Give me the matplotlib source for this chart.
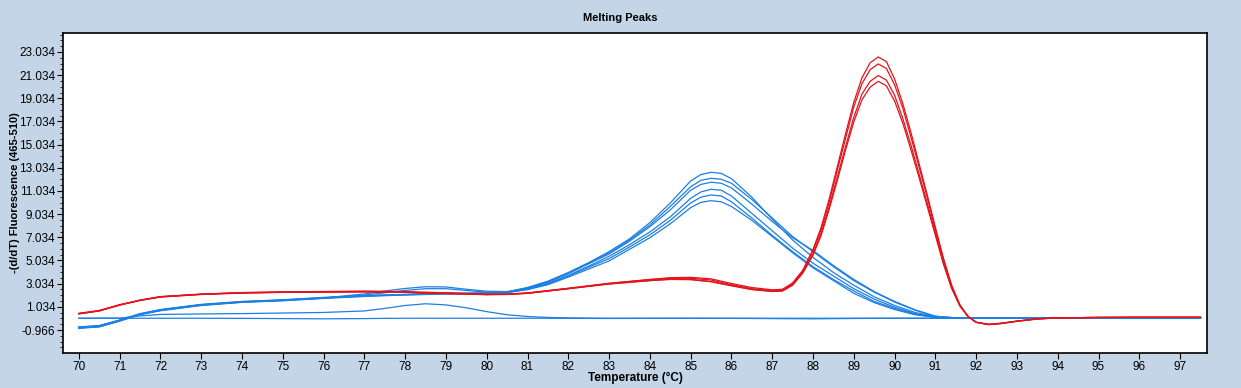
import numpy as np
import matplotlib
matplotlib.use("Agg")
import matplotlib.pyplot as plt
from matplotlib.ticker import FixedLocator

plt.rcParams['font.family'] = ['Liberation Sans', 'DejaVu Sans']

# temperature grids (deg C)
t_blue = [70, 70.5, 71, 71.5, 72, 73, 74, 75, 76, 77, 77.5, 78, 78.5, 79, 79.5,
          80, 80.5, 81, 81.5, 82, 82.5, 83, 83.5, 84, 84.5, 85, 85.25, 85.5, 85.75,
          86, 86.5, 87, 87.5, 88, 88.5, 89, 89.5, 90, 90.5, 91, 91.5, 92, 93, 94,
          95, 96, 97, 97.5]

t_red = [70, 70.5, 71, 71.5, 72, 73, 74, 75, 76, 77, 78, 79, 80, 80.5, 81, 82, 83,
         84, 84.5, 85, 85.5, 86, 86.5, 87, 87.25, 87.5, 87.75,
         88.0, 88.2, 88.4, 88.6, 88.8, 89.0, 89.2, 89.4, 89.6, 89.8, 90.0, 90.2,
         90.4, 90.6, 90.8, 91.0, 91.2, 91.4, 91.6, 91.8, 92.0,
         92.3, 92.6, 93, 93.5, 94, 95, 96, 97, 97.5]

t_ctrl = [70, 71, 71.5, 72, 73, 74, 75, 76, 77, 77.5, 78, 78.5, 79, 79.5, 80,
          80.5, 81, 81.5, 82, 83, 84, 85, 86, 87, 88, 89, 90, 91, 92, 93, 94, 95,
          96, 97, 97.5]

# blue samples, peak ~85.5
blue_a = [-0.72, -0.6, -0.12, 0.42, 0.78, 1.22, 1.48, 1.62, 1.82, 1.98, 2.05, 2.1, 2.15, 2.2, 2.2,
          2.22, 2.3, 2.7, 3.25, 4.0, 4.85, 5.8, 6.9, 8.3, 10.0, 11.9, 12.45, 12.65, 12.55,
          12.1, 10.5, 8.6, 6.8, 5.3, 4.0, 2.9, 1.9, 1.15, 0.55, 0.2, 0.08, 0.06, 0.05, 0.05,
          0.05, 0.05, 0.05, 0.05]
blue_b = [-0.78, -0.65, -0.15, 0.4, 0.75, 1.2, 1.45, 1.6, 1.8, 2.15, 2.4, 2.62, 2.77, 2.75, 2.55,
          2.38, 2.35, 2.68, 3.2, 3.95, 4.8, 5.7, 6.8, 8.1, 9.7, 11.4, 11.95, 12.13, 12.05,
          11.7, 10.3, 8.7, 7.1, 5.8, 4.5, 3.3, 2.3, 1.45, 0.75, 0.22, 0.08, 0.06, 0.05, 0.05,
          0.05, 0.05, 0.05, 0.05]
blue_c = [-0.7, -0.58, -0.1, 0.45, 0.8, 1.25, 1.5, 1.65, 1.85, 2.0, 2.06, 2.1, 2.16, 2.2, 2.22,
          2.24, 2.32, 2.65, 3.15, 3.9, 4.75, 5.6, 6.7, 7.95, 9.4, 11.1, 11.6, 11.79, 11.7,
          11.3, 9.9, 8.4, 7.0, 5.9, 4.6, 3.4, 2.35, 1.5, 0.78, 0.22, 0.08, 0.06, 0.05, 0.05,
          0.05, 0.05, 0.05, 0.05]
blue_d = [-0.8, -0.68, -0.18, 0.38, 0.72, 1.18, 1.44, 1.58, 1.78, 2.05, 2.25, 2.45, 2.6, 2.6, 2.45,
          2.3, 2.3, 2.6, 3.05, 3.75, 4.55, 5.4, 6.4, 7.5, 8.8, 10.4, 10.95, 11.18, 11.1,
          10.6, 9.1, 7.6, 6.1, 4.8, 3.7, 2.6, 1.7, 1.0, 0.45, 0.15, 0.07, 0.06, 0.05, 0.05,
          0.05, 0.05, 0.05, 0.05]
blue_e = [-0.75, -0.62, -0.14, 0.4, 0.76, 1.2, 1.46, 1.6, 1.8, 1.95, 2.02, 2.08, 2.12, 2.16, 2.18,
          2.2, 2.28, 2.55, 3.0, 3.7, 4.45, 5.2, 6.2, 7.25, 8.5, 10.0, 10.5, 10.69, 10.6,
          10.1, 8.7, 7.2, 5.8, 4.5, 3.4, 2.4, 1.5, 0.9, 0.4, 0.14, 0.07, 0.06, 0.05, 0.05,
          0.05, 0.05, 0.05, 0.05]
blue_f = [-0.82, -0.7, -0.2, 0.36, 0.7, 1.15, 1.42, 1.56, 1.76, 1.93, 2.0, 2.05, 2.1, 2.14, 2.16,
          2.18, 2.26, 2.52, 2.95, 3.6, 4.3, 5.0, 6.0, 7.0, 8.2, 9.6, 10.05, 10.2, 10.1,
          9.7, 8.5, 7.1, 5.7, 4.4, 3.3, 2.2, 1.4, 0.8, 0.35, 0.12, 0.07, 0.06, 0.05, 0.05,
          0.05, 0.05, 0.05, 0.05]

# red samples, peak ~89.6
red_a = [0.42, 0.68, 1.18, 1.6, 1.9, 2.12, 2.27, 2.33, 2.36, 2.4, 2.35, 2.25, 2.12, 2.12, 2.2,
         2.6, 3.05, 3.4, 3.55, 3.58, 3.45, 3.05, 2.7, 2.5, 2.55, 3.1, 4.2,
         6.0, 7.9, 10.4, 13.2, 16.0, 18.7, 20.8, 22.1, 22.6, 22.2, 20.7, 18.6,
         16.1, 13.4, 10.7, 7.9, 5.2, 2.9, 1.2, 0.2, -0.3,
         -0.5, -0.4, -0.2, 0.0, 0.08, 0.12, 0.13, 0.13, 0.13]
red_b = [0.45, 0.7, 1.2, 1.62, 1.92, 2.14, 2.25, 2.3, 2.33, 2.35, 2.3, 2.2, 2.1, 2.14, 2.24,
         2.64, 3.07, 3.38, 3.5, 3.5, 3.35, 2.95, 2.6, 2.42, 2.47, 3.0, 4.1,
         5.9, 7.7, 10.1, 12.9, 15.6, 18.3, 20.3, 21.5, 22.0, 21.6, 20.2, 18.2,
         15.7, 13.1, 10.5, 7.7, 5.1, 2.8, 1.2, 0.2, -0.3,
         -0.48, -0.38, -0.2, 0.0, 0.08, 0.12, 0.13, 0.13, 0.13]
red_c = [0.48, 0.72, 1.22, 1.6, 1.88, 2.1, 2.22, 2.28, 2.3, 2.33, 2.28, 2.18, 2.08, 2.1, 2.2,
         2.6, 3.0, 3.3, 3.42, 3.4, 3.22, 2.88, 2.55, 2.38, 2.43, 2.95, 4.0,
         5.6, 7.4, 9.7, 12.3, 14.9, 17.4, 19.4, 20.5, 21.0, 20.6, 19.3, 17.3,
         15.0, 12.5, 10.0, 7.4, 4.8, 2.7, 1.15, 0.2, -0.3,
         -0.5, -0.42, -0.22, -0.02, 0.08, 0.12, 0.13, 0.13, 0.13]
red_d = [0.44, 0.69, 1.2, 1.58, 1.9, 2.12, 2.24, 2.3, 2.32, 2.34, 2.3, 2.2, 2.1, 2.12, 2.22,
         2.62, 3.02, 3.3, 3.4, 3.38, 3.2, 2.85, 2.52, 2.36, 2.4, 2.9, 3.95,
         5.5, 7.2, 9.5, 12.0, 14.6, 17.0, 18.9, 20.0, 20.5, 20.1, 18.8, 16.9,
         14.6, 12.2, 9.7, 7.2, 4.7, 2.6, 1.1, 0.2, -0.3,
         -0.46, -0.4, -0.2, 0.0, 0.08, 0.12, 0.13, 0.13, 0.13]

# negative controls near baseline
ctrl_a = [0.05, 0.06, 0.25, 0.38, 0.42, 0.45, 0.5, 0.55, 0.68, 0.9, 1.15, 1.3, 1.2, 0.95, 0.62,
          0.35, 0.2, 0.12, 0.08, 0.05, 0.05, 0.05, 0.05, 0.05, 0.05, 0.05, 0.05, 0.05, 0.05,
          0.05, 0.05, 0.05, 0.05, 0.05, 0.05]
ctrl_b = [0.05, 0.05, 0.05, 0.05, 0.05, 0.04, 0.02, 0.0, 0.02, 0.04, 0.05, 0.05, 0.05, 0.05, 0.05,
          0.05, 0.05, 0.05, 0.04, 0.03, 0.04, 0.05, 0.04, 0.02, 0.0, 0.03, 0.05, 0.05, 0.05,
          0.05, 0.05, 0.05, 0.05, 0.05, 0.05]

blue = '#1c7fe2'
red = '#e3121b'
bg = '#c3d5e6'

fig = plt.figure(figsize=(12.41, 3.88), dpi=100, facecolor=bg)
ax = fig.add_axes([63/1241, 1-353/388, (1207-63)/1241, (353-33)/388])

for yy in [ctrl_a, ctrl_b]:
    ax.plot(t_ctrl, yy, color=blue, lw=0.9)
for yy in [blue_a, blue_b, blue_c, blue_d, blue_e, blue_f]:
    ax.plot(t_blue, yy, color=blue, lw=0.9)
for yy in [red_a, red_b, red_c, red_d]:
    ax.plot(t_red, yy, color=red, lw=0.9)

ax.set_xlim(69.61, 97.66)
ax.set_ylim(-2.95, 24.67)

ax.set_xticks(range(70, 98))
ax.set_xticklabels([str(v) for v in range(70, 98)])
yt = np.arange(-0.966, 24, 2)
ax.set_yticks(yt)
ax.set_yticklabels(['%.3f' % v for v in yt])
ax.yaxis.set_minor_locator(FixedLocator(np.arange(-2.966, 24.6, 0.5)))

ax.tick_params(axis='both', direction='out', length=4, width=0.8, labelsize=8.5,
               colors='black', pad=1.5)
ax.tick_params(axis='y', which='minor', length=2, width=0.6)
for s in ax.spines.values():
    s.set_linewidth(1.2)

fig.text(0.5, 1-18/388, 'Melting Peaks', ha='center', va='center',
         fontsize=8, fontweight='bold')
fig.text(635/1241, 1-378/388, 'Temperature (\u00b0C)', ha='center', va='center',
         fontsize=8.5, fontweight='bold')
fig.text(15/1241, 1-193/388, '-(d/dT) Fluorescence (465-510)', ha='center', va='center',
         rotation=90, fontsize=8, fontweight='bold')

fig.savefig('out.png', dpi=100, facecolor=bg)
